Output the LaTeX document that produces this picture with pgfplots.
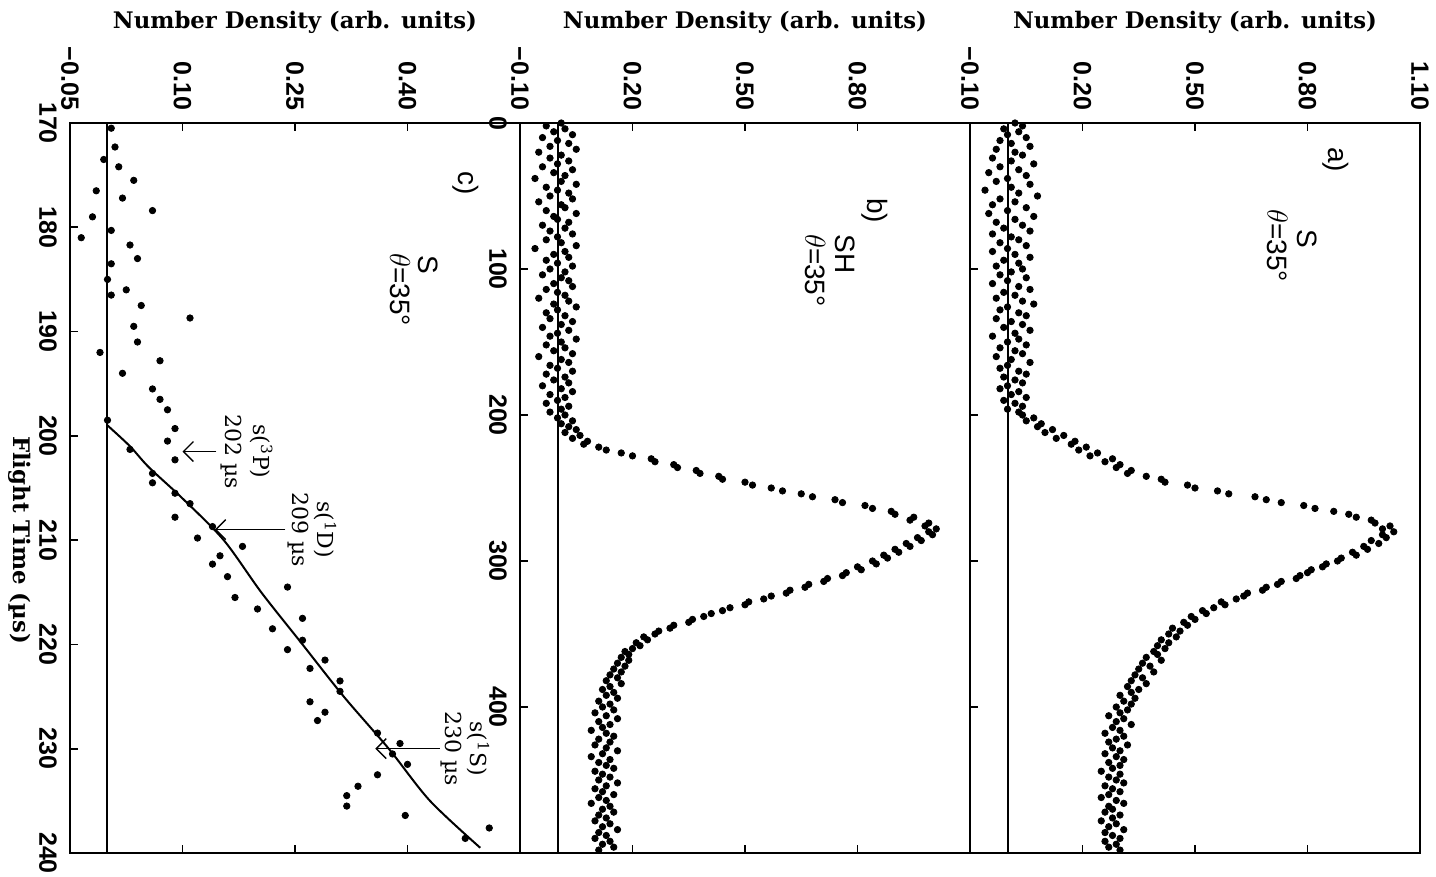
\documentclass[border=0pt]{standalone}
\usepackage{pgfplots}
\pgfplotsset{compat=1.18}
\usepackage{fontspec}
\setmainfont{DejaVu Serif}
\newfontfamily\sansf{Liberation Sans}
\usetikzlibrary{arrows.meta}

\newcommand\tickfont{\sansf\bfseries\fontsize{12.5}{14}\selectfont}
\newcommand\notefont{\sansf\fontsize{14}{16}\selectfont}
\newcommand\labfont{\bfseries\fontsize{11.4}{14}\selectfont}

\pgfplotsset{
  panel/.style={
    scale only axis, width=225pt, height=365pt, anchor=south west,
    y dir=reverse,
    axis line style={line width=1.2pt},
    tick align=inside,
    major tick length=4pt,
    every tick/.style={line width=0.8pt, black},
    xtick pos=both, ytick pos=left,
    xticklabel pos=right,
    xticklabel style={rotate=-90, anchor=east, font=\tickfont},
    yticklabel style={rotate=-90, anchor=north, font=\tickfont},
    xticklabel shift=3pt, yticklabel shift=3pt,
    clip=false,
  },
  dots/.style={only marks, mark=*, mark size=1.6pt, black},
  ref/.style={no marks, black, line width=1pt},
}

\begin{document}
\begin{tikzpicture}
\useasboundingbox (0,0) rectangle (718pt,438.5pt);

% ---------------- panel c: S, zoom on the rising edge ----------------
\begin{axis}[panel, at={(35pt,12pt)},
  xmin=-0.05, xmax=0.55, ymin=170, ymax=240,
  xtick={-0.05,0.10,0.25,0.40,0.55}, xticklabels={−0.05,0.10,0.25,0.40,{}},
  ytick={170,180,...,240}, yticklabels={170,180,190,200,210,220,230,240}]
\addplot[dots] table[x=d, y=t] {
t d
170.5 0.005
172.3 0.010
173.5 -0.005
174.2 0.015
175.5 0.035
176.5 -0.015
177.2 0.020
178.4 0.060
179.0 -0.020
180.3 0.005
181.0 -0.035
181.7 0.030
183.0 0.040
183.5 0.005
185.0 0.000
186.0 0.025
186.5 0.005
187.5 0.045
188.7 0.110
189.5 0.035
191.0 0.040
192.0 -0.010
192.8 0.070
194.0 0.020
195.5 0.060
196.5 0.070
197.5 0.080
198.5 0.000
199.3 0.090
200.5 0.080
201.3 0.030
202.3 0.090
203.6 0.060
204.5 0.060
205.5 0.090
206.5 0.110
207.8 0.090
208.7 0.140
209.8 0.120
210.6 0.180
211.5 0.150
212.3 0.140
213.5 0.160
214.5 0.240
215.5 0.170
216.6 0.200
217.5 0.260
218.5 0.220
219.6 0.260
220.5 0.240
221.5 0.290
222.3 0.270
223.5 0.310
224.5 0.310
225.5 0.270
226.5 0.290
227.3 0.280
228.5 0.360
229.5 0.390
230.5 0.380
231.5 0.400
232.5 0.360
233.6 0.334
234.5 0.319
235.5 0.319
236.4 0.397
237.6 0.509
238.6 0.477
};
\addplot[ref] coordinates {(0,170) (0,240)};
\addplot[ref, smooth] coordinates {(0,199) (0.03,201) (0.055,203) (0.10,206) (0.155,210) (0.205,215) (0.26,220) (0.315,225) (0.375,230) (0.43,235) (0.497,239.5)};
\node[rotate=-90, font=\notefont] at (axis cs:0.477,175.8) {c)};
\node[rotate=-90, font=\notefont] at (axis cs:0.427,183.6) {S};
\node[rotate=-90, font=\notefont] at (axis cs:0.39,186) {$\theta$=35°};
\draw[-{Straight Barb[length=5pt]}, line width=0.7pt] (axis cs:0.145,201.5) -- (axis cs:0.10,201.5);
\node[rotate=-90, font=\fontsize{11}{13}\selectfont] at (axis cs:0.205,201.5) {s(\textsuperscript{3}P)};
\node[rotate=-90, font=\fontsize{11}{13}\selectfont] at (axis cs:0.165,201.5) {202 µs};
\draw[-{Straight Barb[length=5pt]}, line width=0.7pt] (axis cs:0.237,209) -- (axis cs:0.143,209);
\node[rotate=-90, font=\fontsize{11}{13}\selectfont] at (axis cs:0.29,209) {s(\textsuperscript{1}D)};
\node[rotate=-90, font=\fontsize{11}{13}\selectfont] at (axis cs:0.254,209) {209 µs};
\draw[-{Straight Barb[length=5pt]}, line width=0.7pt] (axis cs:0.443,230) -- (axis cs:0.357,230);
\node[rotate=-90, font=\fontsize{11}{13}\selectfont] at (axis cs:0.494,230) {s(\textsuperscript{1}S)};
\node[rotate=-90, font=\fontsize{11}{13}\selectfont] at (axis cs:0.459,230) {230 µs};
\end{axis}

% ---------------- panel b: SH ----------------
\begin{axis}[panel, at={(260pt,12pt)},
  xmin=-0.1, xmax=1.1, ymin=0, ymax=500,
  xtick={-0.1,0.2,0.5,0.8,1.1}, xticklabels={−0.10,0.20,0.50,0.80,{}},
  ytick={0,100,...,500}, yticklabels={0,100,200,300,400,{}}]
\addplot[dots] table[x=d, y=t] {
t d
0 0.01
2 -0.03
4 0.02
6 -0.01
8 0.04
10 -0.04
12 0.00
14 0.03
16 -0.02
18 0.05
20 -0.05
22 0.01
24 -0.02
26 0.03
28 0.00
30 -0.04
32 0.04
34 -0.01
36 0.02
38 -0.06
40 0.01
42 0.05
44 -0.03
46 0.00
48 0.03
50 -0.02
52 0.04
54 -0.05
56 0.01
58 0.02
60 -0.03
62 0.05
64 -0.01
66 0.00
68 0.03
70 -0.04
72 0.02
74 -0.02
76 0.04
78 0.00
80 -0.03
82 0.01
84 0.05
86 -0.06
88 0.02
90 -0.01
92 0.03
94 -0.03
96 0.00
98 0.04
100 -0.02
102 0.02
104 -0.04
106 0.01
108 0.03
110 -0.01
112 0.04
114 -0.03
116 0.00
118 0.02
120 -0.05
122 0.03
124 -0.01
126 0.05
128 0.00
130 -0.03
132 0.02
134 -0.02
136 0.04
138 0.01
140 -0.04
142 0.03
144 0.00
146 -0.02
148 0.05
150 0.01
152 -0.03
154 0.02
156 -0.01
158 0.04
160 -0.05
162 0.01
164 0.03
166 -0.02
168 0.00
170 0.04
172 -0.03
174 0.02
176 -0.01
178 0.03
180 -0.04
182 0.01
184 0.04
186 -0.02
188 0.02
190 0.00
192 -0.03
194 0.03
196 0.01
198 -0.02
200 0.02
202 0.00
204 0.04
206 0.01
208 0.03
210 0.05
212 0.02
214 0.06
216 0.04
218 0.08
220 0.07
222 0.11
224 0.13
226 0.17
228 0.20
230 0.25
232 0.26
234 0.31
236 0.32
238 0.37
240 0.38
242 0.43
244 0.44
246 0.50
248 0.52
250 0.57
252 0.60
254 0.65
256 0.68
258 0.74
260 0.76
262 0.82
264 0.84
266 0.89
268 0.90
270 0.95
272 0.94
274 0.99
276 0.98
278 1.01
280 0.99
282 1.00
284 0.96
286 0.97
288 0.93
290 0.94
292 0.90
294 0.91
296 0.87
298 0.88
300 0.84
302 0.85
304 0.80
306 0.81
308 0.77
310 0.76
312 0.72
314 0.71
316 0.67
318 0.66
320 0.62
322 0.61
324 0.57
326 0.55
328 0.51
330 0.50
332 0.46
334 0.44
336 0.41
338 0.39
340 0.36
342 0.35
344 0.31
346 0.30
348 0.27
350 0.26
352 0.23
354 0.24
356 0.21
358 0.22
360 0.20
362 0.18
364 0.19
366 0.17
368 0.19
370 0.16
372 0.18
374 0.15
376 0.17
378 0.14
380 0.16
382 0.13
384 0.17
386 0.14
388 0.12
390 0.15
392 0.13
394 0.16
396 0.11
398 0.14
400 0.12
402 0.15
404 0.10
406 0.13
408 0.16
410 0.11
412 0.14
414 0.12
416 0.09
418 0.13
420 0.15
422 0.11
424 0.14
426 0.10
428 0.13
430 0.16
432 0.12
434 0.09
436 0.14
438 0.11
440 0.13
442 0.15
444 0.10
446 0.12
448 0.14
450 0.11
452 0.16
454 0.13
456 0.10
458 0.12
460 0.15
462 0.11
464 0.13
466 0.09
468 0.14
470 0.12
472 0.15
474 0.11
476 0.13
478 0.10
480 0.14
482 0.12
484 0.16
486 0.11
488 0.13
490 0.10
492 0.14
494 0.12
496 0.15
498 0.11
};
\addplot[ref] coordinates {(0,0) (0,500)};
\node[rotate=-90, font=\notefont] at (axis cs:0.847,60) {b)};
\node[rotate=-90, font=\notefont] at (axis cs:0.767,90) {SH};
\node[rotate=-90, font=\notefont] at (axis cs:0.687,101) {$\theta$=35°};
\end{axis}

% ---------------- panel a: S ----------------
\begin{axis}[panel, at={(485pt,12pt)},
  xmin=-0.1, xmax=1.1, ymin=0, ymax=500,
  xtick={-0.1,0.2,0.5,0.8,1.1}, xticklabels={−0.10,0.20,0.50,0.80,1.10},
  ytick={0,100,...,500}, yticklabels={}]
\addplot[dots] table[x=d, y=t] {
t d
0 0.02
2 0.04
4 -0.01
6 0.03
8 0.00
10 0.05
12 -0.02
14 0.01
16 0.06
18 -0.03
20 0.02
22 0.04
24 -0.04
26 0.01
28 0.07
30 -0.02
32 0.03
34 -0.05
36 0.05
38 0.00
40 -0.03
42 0.06
44 0.01
46 -0.06
48 0.03
50 0.08
52 -0.02
54 0.02
56 -0.04
58 0.05
60 0.00
62 -0.05
64 0.07
66 0.02
68 -0.03
70 0.04
72 -0.01
74 0.06
76 -0.04
78 0.01
80 0.03
82 -0.02
84 0.05
86 0.00
88 -0.04
90 0.02
92 0.06
94 -0.01
96 0.03
98 -0.03
100 0.04
102 0.01
104 -0.02
106 0.05
108 0.00
110 -0.04
112 0.03
114 0.06
116 -0.01
118 0.02
120 -0.03
122 0.04
124 0.07
126 0.00
128 -0.02
130 0.03
132 0.05
134 -0.03
136 0.01
138 0.04
140 -0.01
142 0.06
144 0.02
146 -0.04
148 0.03
150 0.00
152 0.05
154 -0.02
156 0.02
158 0.04
160 -0.03
162 0.01
164 0.06
166 0.00
168 -0.02
170 0.03
172 0.05
174 -0.01
176 0.02
178 0.04
180 0.00
182 -0.02
184 0.03
186 0.01
188 0.05
190 -0.01
192 0.02
194 0.04
196 0.00
198 0.03
200 0.04
202 0.07
204 0.05
206 0.09
208 0.08
210 0.12
212 0.10
214 0.15
216 0.13
218 0.18
220 0.17
222 0.21
224 0.19
226 0.24
228 0.22
230 0.28
232 0.26
234 0.30
236 0.29
238 0.33
240 0.32
242 0.37
244 0.41
246 0.42
248 0.48
250 0.50
252 0.56
254 0.59
256 0.66
258 0.69
260 0.73
262 0.79
264 0.82
266 0.87
268 0.91
270 0.93
272 0.97
274 0.98
276 1.02
278 1.00
280 1.03
282 1.00
284 1.01
286 0.97
288 0.99
290 0.95
292 0.96
294 0.92
296 0.93
298 0.89
300 0.88
302 0.85
304 0.84
306 0.81
308 0.80
310 0.78
312 0.77
314 0.73
316 0.72
318 0.69
320 0.68
322 0.64
324 0.63
326 0.61
328 0.57
330 0.58
332 0.55
334 0.52
336 0.53
338 0.49
340 0.50
342 0.47
344 0.48
346 0.44
348 0.46
350 0.43
352 0.45
354 0.41
356 0.43
358 0.40
360 0.42
362 0.39
364 0.40
366 0.37
368 0.41
370 0.36
372 0.38
374 0.35
376 0.39
378 0.34
380 0.36
382 0.33
384 0.37
386 0.32
388 0.35
390 0.33
392 0.30
394 0.34
396 0.31
398 0.33
400 0.29
402 0.32
404 0.30
406 0.27
408 0.31
410 0.29
412 0.33
414 0.28
416 0.30
418 0.26
420 0.31
422 0.29
424 0.27
426 0.32
428 0.28
430 0.30
432 0.26
434 0.29
436 0.31
438 0.27
440 0.30
442 0.28
444 0.25
446 0.30
448 0.27
450 0.29
452 0.31
454 0.26
456 0.28
458 0.30
460 0.27
462 0.25
464 0.29
466 0.31
468 0.27
470 0.28
472 0.26
474 0.30
476 0.28
478 0.25
480 0.29
482 0.27
484 0.31
486 0.26
488 0.28
490 0.30
492 0.26
494 0.29
496 0.27
498 0.30
};
\addplot[ref] coordinates {(0,0) (0,500)};
\node[rotate=-90, font=\notefont] at (axis cs:0.876,25) {a)};
\node[rotate=-90, font=\notefont] at (axis cs:0.80,79) {S};
\node[rotate=-90, font=\notefont] at (axis cs:0.72,84) {$\theta$=35°};
\end{axis}

% axis titles
\node[font=\labfont] at (147.5pt,427.5pt) {Number Density (arb. units)};
\node[font=\labfont] at (372.5pt,427.5pt) {Number Density (arb. units)};
\node[font=\labfont] at (597.5pt,427.5pt) {Number Density (arb. units)};
\node[rotate=-90, font=\labfont] at (10pt,168.5pt) {Flight Time (µs)};
\end{tikzpicture}
\end{document}
